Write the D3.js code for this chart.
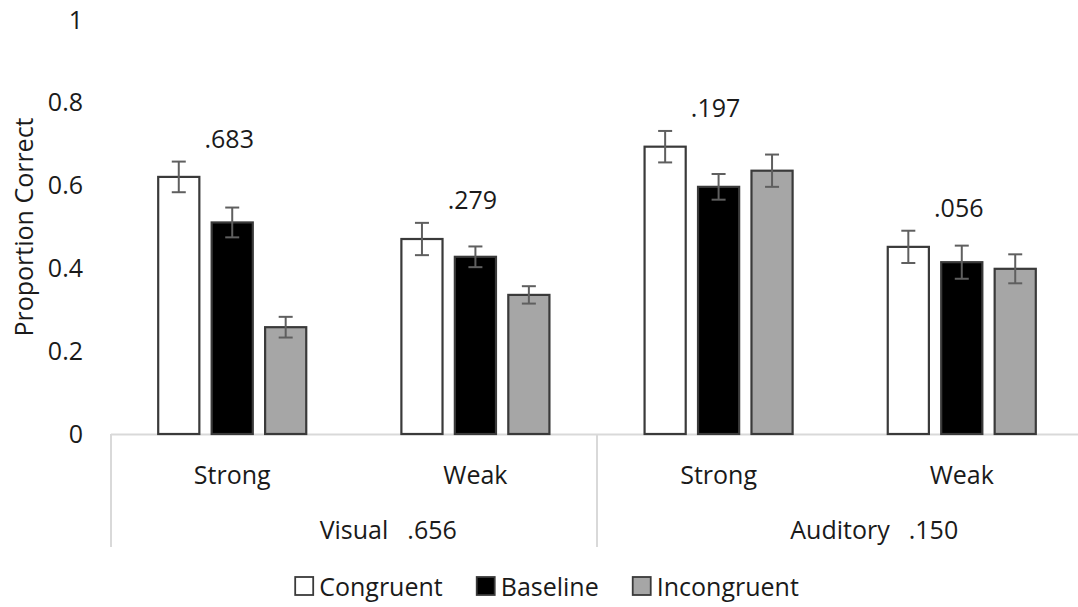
<!DOCTYPE html>
<html>
<head>
<meta charset="utf-8">
<script src="https://cdn.jsdelivr.net/npm/d3@7"></script>
<style>
  html, body { margin: 0; padding: 0; background: #fff; }
  svg { display: block; font-family: "Open Sans", sans-serif; }
</style>
</head>
<body>
<svg id="chart" width="1078" height="607"></svg>
<script>
// Conditions along the x axis
const conditions = ["Visual-Strong", "Visual-Weak", "Auditory-Strong", "Auditory-Weak"];
const strengthLabels = ["Strong", "Weak", "Strong", "Weak"];
const modalities = ["Visual", "Auditory"];
const modalityStats = [".656", ".150"];
const conditionStats = [".683", ".279", ".197", ".056"];

// Series (one value per condition)
const series = ["Congruent", "Baseline", "Incongruent"];
const congruent   = [0.621, 0.471, 0.694, 0.452];
const baseline    = [0.511, 0.428, 0.597, 0.415];
const incongruent = [0.258, 0.336, 0.636, 0.399];
const congruentErr   = [0.037, 0.039, 0.038, 0.039];
const baselineErr    = [0.036, 0.025, 0.031, 0.040];
const incongruentErr = [0.025, 0.021, 0.039, 0.035];

const yTicks = [0, 0.2, 0.4, 0.6, 0.8, 1];

const values = [congruent, baseline, incongruent];
const errors = [congruentErr, baselineErr, incongruentErr];
const fills = ["#ffffff", "#000000", "#a6a6a6"];

const svg = d3.select("#chart");
const plotLeft = 111, plotRight = 1083, plotTop = 20, plotBottom = 434;
const textColor = "#1a1a1a";
const fontSize = 25;

const y = d3.scaleLinear().domain([0, 1]).range([plotBottom, plotTop]);
const x0 = d3.scaleBand().domain(conditions).range([plotLeft, plotRight])
  .paddingInner(0.383).paddingOuter(0.19);
const x1 = d3.scaleBand().domain(series).range([0, x0.bandwidth()])
  .paddingInner(0.193);
const xm = d3.scaleBand().domain(modalities).range([plotLeft, plotRight]);

// Y axis labels only
const yAxis = svg.append("g")
  .attr("transform", `translate(${plotLeft},0)`)
  .call(d3.axisLeft(y).tickValues(yTicks).tickSize(0).tickPadding(28).tickFormat(d3.format("~g")));
yAxis.select(".domain").remove();
yAxis.selectAll("text")
  .attr("font-family", "Open Sans").attr("font-size", fontSize).attr("fill", textColor);

svg.append("text")
  .attr("transform", `translate(23,${(plotTop + plotBottom) / 2}) rotate(-90)`)
  .attr("text-anchor", "middle").attr("dominant-baseline", "central")
  .attr("font-size", fontSize).attr("fill", textColor)
  .text("Proportion Correct");

// Category axis: baseline and group separators
const axisColor = "#d9d9d9";
svg.append("line")
  .attr("x1", plotLeft).attr("x2", plotRight).attr("y1", plotBottom + 0.5).attr("y2", plotBottom + 0.5)
  .attr("stroke", axisColor).attr("stroke-width", 2);
const seps = modalities.map(m => xm(m)).concat([xm(modalities[modalities.length - 1]) + xm.bandwidth()]);
svg.selectAll("line.sep").data(seps).join("line").attr("class", "sep")
  .attr("x1", d => d).attr("x2", d => d)
  .attr("y1", plotBottom).attr("y2", 547)
  .attr("stroke", axisColor).attr("stroke-width", 2);

// Bars
const groups = svg.selectAll("g.cond").data(conditions).join("g")
  .attr("class", "cond")
  .attr("transform", d => `translate(${x0(d)},0)`);

groups.each(function(cond, ci) {
  const g = d3.select(this);
  series.forEach((s, si) => {
    const v = values[si][ci];
    g.append("rect")
      .attr("x", x1(s) + 1).attr("width", x1.bandwidth() - 2)
      .attr("y", y(v)).attr("height", y(0) - y(v))
      .attr("fill", fills[si]).attr("stroke", "#3a3a3a").attr("stroke-width", 2.2);
  });
  series.forEach((s, si) => {
    const v = values[si][ci], e = errors[si][ci];
    const cx = x1(s) + x1.bandwidth() / 2;
    const eb = g.append("g").attr("stroke", "#5f5f5f").attr("stroke-width", 2);
    eb.append("line").attr("x1", cx).attr("x2", cx).attr("y1", y(v + e)).attr("y2", y(v - e));
    eb.append("line").attr("x1", cx - 7).attr("x2", cx + 7).attr("y1", y(v + e)).attr("y2", y(v + e));
    eb.append("line").attr("x1", cx - 7).attr("x2", cx + 7).attr("y1", y(v - e)).attr("y2", y(v - e));
  });
  const topVal = d3.max(series, (s, si) => values[si][ci] + errors[si][ci]);
  g.append("text")
    .attr("x", x0.bandwidth() / 2 - 3).attr("y", y(topVal) - 24)
    .attr("text-anchor", "middle").attr("dominant-baseline", "central")
    .attr("font-size", fontSize).attr("fill", textColor)
    .text(conditionStats[ci]);
});

// Strength labels
svg.selectAll("text.strength").data(conditions).join("text").attr("class", "strength")
  .attr("x", d => x0(d) + x0.bandwidth() / 2).attr("y", 474)
  .attr("text-anchor", "middle").attr("dominant-baseline", "central")
  .attr("font-size", fontSize).attr("fill", textColor)
  .text((d, i) => strengthLabels[i]);

// Modality labels with their statistics
modalities.forEach((m, i) => {
  const cx = xm(m) + xm.bandwidth() / 2;
  const t = svg.append("text")
    .attr("x", cx).attr("y", 529)
    .attr("text-anchor", "middle").attr("dominant-baseline", "central")
    .attr("font-size", fontSize).attr("fill", textColor)
    .text(m);
  const w = t.node().getComputedTextLength();
  svg.append("text")
    .attr("x", cx + w / 2 + 19).attr("y", 529)
    .attr("dominant-baseline", "central")
    .attr("font-size", fontSize).attr("fill", textColor)
    .text(modalityStats[i]);
});

// Legend
const legend = svg.append("g");
const sw = 18, swGap = 6, itemGap = 34;
let lx = 0;
series.forEach((s, i) => {
  const item = legend.append("g").attr("transform", `translate(${lx},0)`);
  item.append("rect").attr("x", 0).attr("y", -sw / 2).attr("width", sw).attr("height", sw)
    .attr("fill", fills[i]).attr("stroke", "#3a3a3a").attr("stroke-width", 1.8);
  const t = item.append("text").attr("x", sw + swGap).attr("y", 0)
    .attr("dominant-baseline", "central")
    .attr("font-size", fontSize).attr("fill", textColor).text(s);
  lx += sw + swGap + t.node().getComputedTextLength() + itemGap;
});
const legendWidth = lx - itemGap;
legend.attr("transform", `translate(${547 - legendWidth / 2},586)`);
</script>
</body>
</html>
